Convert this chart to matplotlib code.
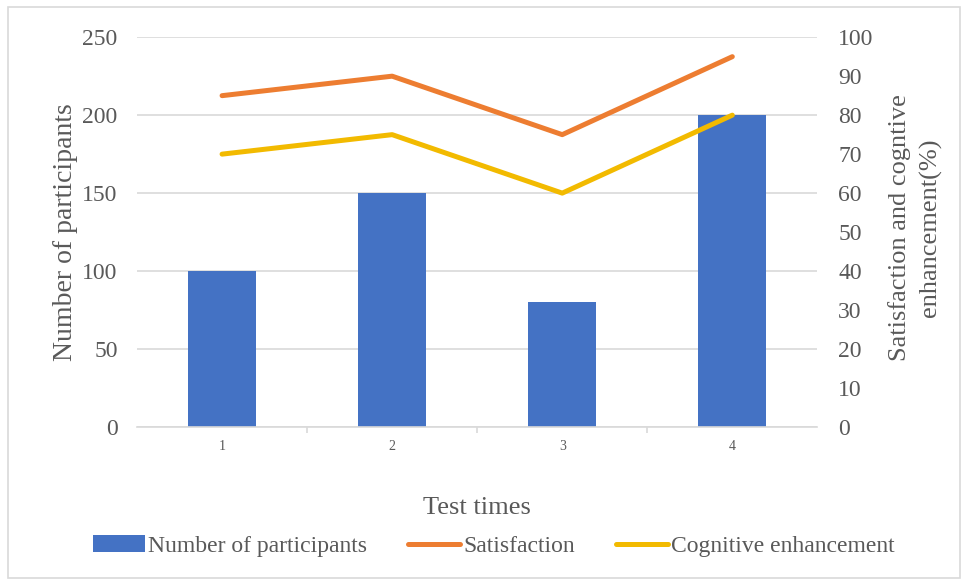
import matplotlib.pyplot as plt
from matplotlib.patches import Rectangle

plt.rcParams['font.family'] = ['Liberation Serif', 'DejaVu Serif']

# Data
test_times = [1, 2, 3, 4]
participants = [100, 150, 80, 200]
satisfaction = [85, 90, 75, 95]
cognitive = [70, 75, 60, 80]

text_color = '#595959'
grid_color = '#D9D9D9'

fig = plt.figure(figsize=(9.65, 5.81), dpi=100)
ax = fig.add_axes([0.142, 0.265, 0.705, 0.671])
ax2 = ax.twinx()

# Bars on the left axis
bars = ax.bar(test_times, participants, width=0.4, color='#4472C4', zorder=2,
              label='Number of participants')
ax.set_ylim(0, 250)
ax.set_yticks(range(0, 251, 50))
ax.set_xlim(0.5, 4.5)
ax.set_xticks(test_times)
ax.set_xticks([1.5, 2.5, 3.5], minor=True)
ax.grid(axis='y', color=grid_color, linewidth=1.2, zorder=0)
ax.set_axisbelow(True)

# Lines on the right axis
l1, = ax2.plot(test_times, satisfaction, color='#ED7D31', linewidth=3.6,
               solid_capstyle='round', label='Satisfaction')
l2, = ax2.plot(test_times, cognitive, color='#F2BA00', linewidth=3.6,
               solid_capstyle='round', label='Cognitive enhancement')
ax2.set_ylim(0, 100)
ax2.set_yticks(range(0, 101, 10))

for a in (ax, ax2):
    for s in a.spines.values():
        s.set_visible(False)
ax.spines['bottom'].set_visible(True)
ax.spines['bottom'].set_color(grid_color)
ax.spines['bottom'].set_linewidth(1.2)

ax.tick_params(axis='y', length=0, labelsize=17, labelcolor=text_color, pad=14)
ax2.tick_params(axis='y', length=0, labelsize=17, labelcolor=text_color, pad=15)
ax.tick_params(axis='x', which='major', length=0, labelsize=10, labelcolor=text_color, pad=9)
ax.tick_params(axis='x', which='minor', length=4, color=grid_color, width=1.2)

ax.set_ylabel('Number of participants', fontsize=20, color=text_color, labelpad=3)
# right axis title, two centred lines
fig.text(915 / 965, 1 - 228 / 581, 'Satisfaction and cogntive\nenhancement(%)',
         rotation=90, ha='center', va='center', multialignment='center',
         fontsize=19, color=text_color, linespacing=1.4)
ax.set_xlabel('Test times', fontsize=19, color=text_color, labelpad=32)

fig.legend(handles=[bars, l1, l2], loc='center', bbox_to_anchor=(0.512, 0.06),
           ncol=3, frameon=False, fontsize=17, labelcolor=text_color,
           handlelength=2.2, handletextpad=0.13, columnspacing=1.75)

# Light border round the chart
fig.patches.append(Rectangle((8 / 965, 3 / 581), 952 / 965, 571 / 581,
                             transform=fig.transFigure, fill=False,
                             edgecolor='#D9D9D9', linewidth=1.2))

fig.savefig('out.png', dpi=100)
